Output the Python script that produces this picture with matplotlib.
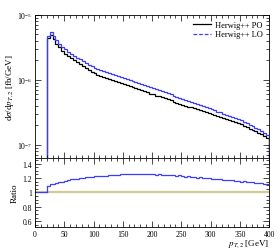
import numpy as np
import matplotlib
matplotlib.use("Agg")
import matplotlib.pyplot as plt
from matplotlib.lines import Line2D
from matplotlib.ticker import MultipleLocator, LogLocator, NullFormatter

plt.rcParams['font.family'] = ['Liberation Serif', 'DejaVu Serif']
plt.rcParams['mathtext.fontset'] = 'stix'

# bin edges in GeV (5 GeV bins, nothing below 20 GeV)
edges = np.arange(20, 405, 5)

# d sigma / d pT,2 in 1e-6 fb/GeV
po = [4.41, 4.95, 4.27, 3.63, 3.16, 2.82, 2.54, 2.32, 2.14, 2.00,
      1.86, 1.74, 1.62, 1.51, 1.41, 1.33, 1.26, 1.20, 1.15, 1.11,
      1.07, 1.035, 1.00, 0.955, 0.923, 0.891, 0.861, 0.832, 0.804, 0.776,
      0.741, 0.716, 0.692, 0.668, 0.646, 0.617, 0.596, 0.575, 0.556, 0.537,
      0.519, 0.501, 0.484, 0.462, 0.447, 0.432, 0.417, 0.403, 0.389, 0.376,
      0.363, 0.351, 0.339, 0.327, 0.316, 0.305, 0.295, 0.285, 0.275, 0.266,
      0.257, 0.248, 0.240, 0.232, 0.224, 0.216, 0.207, 0.197, 0.188, 0.178,
      0.170, 0.162, 0.153, 0.145, 0.136, 0.126]
lo = [4.81, 5.54, 4.74, 4.10, 3.60, 3.24, 2.95, 2.71, 2.53, 2.37,
      2.21, 2.09, 1.95, 1.83, 1.71, 1.62, 1.54, 1.47, 1.41, 1.37,
      1.32, 1.283, 1.24, 1.189, 1.149, 1.114, 1.076, 1.044, 1.005, 0.974,
      0.934, 0.899, 0.865, 0.838, 0.814, 0.774, 0.745, 0.716, 0.695, 0.669,
      0.644, 0.624, 0.600, 0.571, 0.550, 0.534, 0.511, 0.492, 0.477, 0.457,
      0.439, 0.423, 0.410, 0.392, 0.378, 0.366, 0.351, 0.338, 0.325, 0.315,
      0.302, 0.290, 0.280, 0.271, 0.260, 0.249, 0.238, 0.227, 0.215, 0.203,
      0.194, 0.184, 0.173, 0.164, 0.152, 0.140]

labels = ['Herwig++ PO', 'Herwig++ LO']
black = 'black'
blue = '#3c3cff'

po = np.array(po) * 1e-6
lo = np.array(lo) * 1e-6
ratio = lo / po

ymin, ymax = 6.3e-8, 1.0e-5

fig = plt.figure(figsize=(2.8, 2.53), dpi=100)
ax = fig.add_axes([0.125, 0.372, 0.836, 0.565])
rax = fig.add_axes([0.125, 0.099, 0.836, 0.273], sharex=ax)

ax.stairs(po, edges, baseline=ymin * 0.5, color=black, lw=0.9)
ax.stairs(lo, edges, baseline=ymin * 0.5, color=blue, lw=0.9)
ax.set_yscale('log')
ax.set_ylim(ymin, ymax)
ax.set_xlim(0, 400)
ax.yaxis.set_major_locator(LogLocator(base=10, numticks=10))
ax.yaxis.set_minor_locator(LogLocator(base=10, subs=np.arange(2, 10), numticks=10))
ax.yaxis.set_minor_formatter(NullFormatter())
ax.tick_params(labelbottom=False)
ax.set_ylabel(r'd$\sigma$/d$p_{T,2}$ [fb/GeV]', fontsize=6.5, labelpad=1)

handles = [Line2D([], [], color=black, lw=0.9),
           Line2D([], [], color=blue, lw=0.9, ls=(0, (3, 1.5)))]
ax.legend(handles, labels, loc='upper right', frameon=False, fontsize=6,
          handlelength=2.2, borderaxespad=0.3, labelspacing=0.2, handletextpad=0.5)

# ratio panel: reference line and LO/PO, ratio shown as 1 where PO is empty
rax.axhline(1.0, color='#cfcb92', lw=1.6)
rax.plot([0, edges[0]], [1, 1], color=blue, lw=0.9)
rax.stairs(ratio, edges, baseline=None, color=blue, lw=0.9)
rax.plot([edges[0], edges[0]], [1, ratio[0]], color=blue, lw=0.9)
rax.set_ylim(0.52, 1.48)
rax.yaxis.set_major_locator(MultipleLocator(0.2))
rax.yaxis.set_minor_locator(MultipleLocator(0.05))
rax.set_yticks([0.6, 0.8, 1.0, 1.2, 1.4])
rax.set_yticklabels(['0.6', '0.8', '1', '1.2', '1.4'])
rax.set_ylabel('Ratio', fontsize=6.5, labelpad=3)
rax.set_xlabel(r'$p_{T,2}$ [GeV]', fontsize=6.5, loc='right', labelpad=0)

for a in (ax, rax):
    a.xaxis.set_major_locator(MultipleLocator(50))
    a.xaxis.set_minor_locator(MultipleLocator(10))
    a.tick_params(which='both', direction='in', top=True, right=True,
                  labelsize=5.5, pad=2, width=0.5)
    a.tick_params(which='major', length=4)
    a.tick_params(which='minor', length=2)
    for s in a.spines.values():
        s.set_linewidth(0.6)

fig.savefig('out.png', dpi=100)
